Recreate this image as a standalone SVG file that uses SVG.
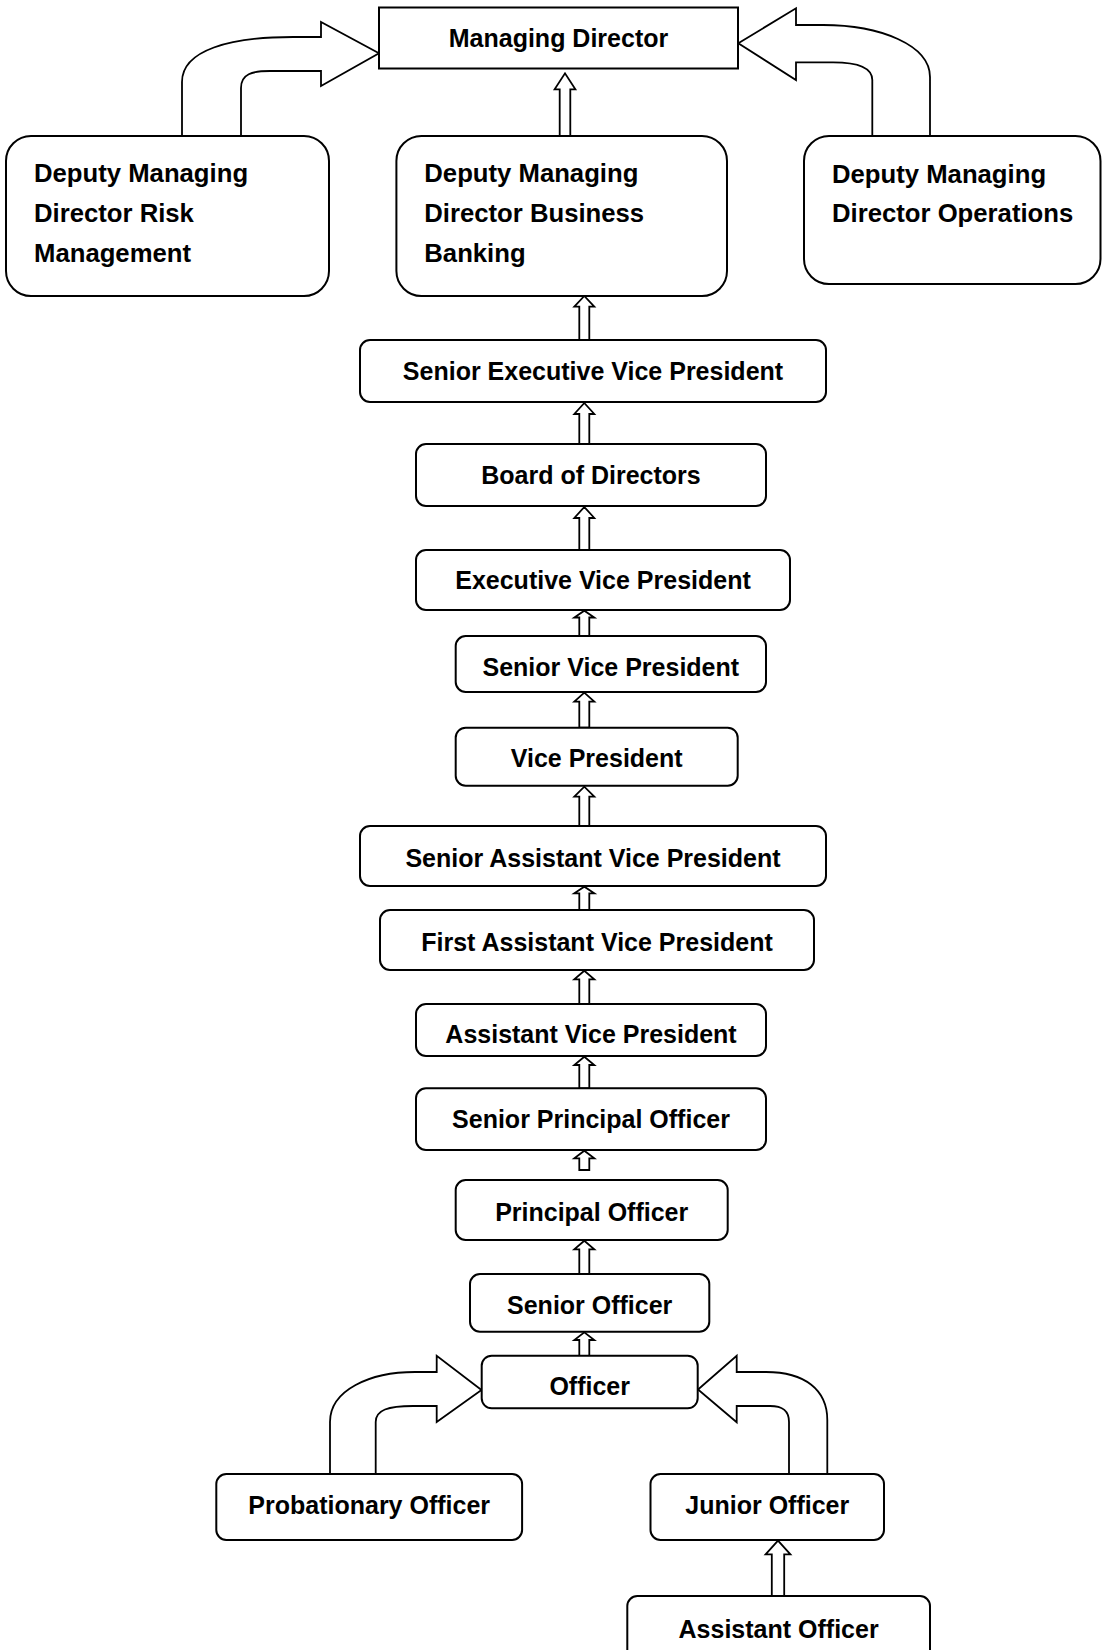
<svg xmlns="http://www.w3.org/2000/svg" width="1102" height="1650" viewBox="0 0 1102 1650">
<style>
.box{fill:#fff;stroke:#000;stroke-width:2}
.t{font-family:"Liberation Sans",Arial,sans-serif;font-weight:bold;font-size:25px;fill:#000;text-anchor:middle}
.tl{font-family:"Liberation Sans",Arial,sans-serif;font-weight:bold;font-size:25.7px;fill:#000}
.arr{fill:#fff;stroke:#000;stroke-width:1.8;stroke-linejoin:miter}
</style>
<rect width="1102" height="1650" fill="#fff"/>
<g id="connectors">
<path class="arr" d="M182,136 L182,82 C182,50 230,37 293,37 L321,37 L321,22 L379,53.3 L321,86 L321,71 L270,71 C252,71 241,74 241,88 L241,136 Z"/>
<path class="arr" d="M930,136 L930,77 C930,45 880,25 823,25 L796,25 L796,8.3 L738.3,43.3 L796,80 L796,62.3 L833,62.3 C860,62.3 872.3,68 872.3,80 L872.3,136 Z"/>
<path class="arr" d="M559.7,136 L559.7,89.3 L554.6,89.3 L565,73.3 L575.4,89.3 L570.3,89.3 L570.3,136 Z"/>
<path class="arr" d="M579.3,340 L579.3,306.7 L574.3,306.7 L584.3,296 L594.3,306.7 L589.3,306.7 L589.3,340 Z"/>
<path class="arr" d="M579.3,444 L579.3,414 L574.3,414 L584.3,403 L594.3,414 L589.3,414 L589.3,444 Z"/>
<path class="arr" d="M579.3,550 L579.3,518 L574.3,518 L584.3,507 L594.3,518 L589.3,518 L589.3,550 Z"/>
<path class="arr" d="M579.3,636 L579.3,617.5 L574.3,617.5 L584.3,610.7 L594.3,617.5 L589.3,617.5 L589.3,636 Z"/>
<path class="arr" d="M579.3,727.7 L579.3,701.7 L574.3,701.7 L584.3,692.7 L594.3,701.7 L589.3,701.7 L589.3,727.7 Z"/>
<path class="arr" d="M579.3,826 L579.3,796.7 L574.3,796.7 L584.3,786.7 L594.3,796.7 L589.3,796.7 L589.3,826 Z"/>
<path class="arr" d="M579.3,910 L579.3,893.3 L574.3,893.3 L584.3,886.7 L594.3,893.3 L589.3,893.3 L589.3,910 Z"/>
<path class="arr" d="M579.3,1004 L579.3,979.3 L574.3,979.3 L584.3,970.7 L594.3,979.3 L589.3,979.3 L589.3,1004 Z"/>
<path class="arr" d="M579.3,1088.3 L579.3,1065 L574.3,1065 L584.3,1056.7 L594.3,1065 L589.3,1065 L589.3,1088.3 Z"/>
<path class="arr" d="M579.3,1170 L579.3,1158.3 L574.3,1158.3 L584.3,1150.7 L594.3,1158.3 L589.3,1158.3 L589.3,1170 Z"/>
<path class="arr" d="M579.3,1274 L579.3,1249.3 L574.3,1249.3 L584.3,1240.7 L594.3,1249.3 L589.3,1249.3 L589.3,1274 Z"/>
<path class="arr" d="M579.3,1356 L579.3,1340 L574.3,1340 L584.3,1332.3 L594.3,1340 L589.3,1340 L589.3,1356 Z"/>
<path class="arr" d="M330,1474 L330,1422 C330,1390 370,1372 415,1372 L436.7,1372 L436.7,1355.7 L481.5,1390 L436.7,1422 L436.7,1406 L413,1406 C388,1406 375.7,1410 375.7,1422 L375.7,1474 Z"/>
<path class="arr" d="M827.3,1474 L827.3,1420 C827.3,1390 805,1372 766,1372 L736.7,1372 L736.7,1355.7 L698,1389.5 L736.7,1422.3 L736.7,1406 L770,1406 C782,1406 789,1410 789,1422 L789,1474 Z"/>
<path class="arr" d="M771.8,1596 L771.8,1554.3 L765.6,1554.3 L778,1540.7 L790.4,1554.3 L784.2,1554.3 L784.2,1596 Z"/>
</g>
<g id="md"><rect class="box" x="379" y="7.5" width="359" height="61"/><text class="t" x="558.5" y="46.5" font-size="25.7">Managing Director</text></g>
<g id="dmd-risk"><rect class="box" x="6" y="136" width="323" height="160" rx="25"/><text class="tl" x="34" y="182">Deputy Managing</text><text class="tl" x="34" y="222">Director Risk</text><text class="tl" x="34" y="262">Management</text></g>
<g id="dmd-bb"><rect class="box" x="396.4" y="136" width="330.6" height="160" rx="25"/><text class="tl" x="424.3" y="182">Deputy Managing</text><text class="tl" x="424.3" y="222">Director Business</text><text class="tl" x="424.3" y="262">Banking</text></g>
<g id="dmd-ops"><rect class="box" x="804" y="136" width="296.5" height="148" rx="25"/><text class="tl" x="832" y="182.5">Deputy Managing</text><text class="tl" x="832" y="221.5">Director Operations</text></g>
<g id="sevp"><rect class="box" x="360" y="340" width="466" height="62" rx="10"/><text class="t" x="593" y="380">Senior Executive Vice President</text></g>
<g id="bod"><rect class="box" x="416" y="444" width="350" height="62" rx="10"/><text class="t" x="591" y="484.3">Board of Directors</text></g>
<g id="evp"><rect class="box" x="416" y="550" width="374" height="60" rx="10"/><text class="t" x="603" y="589">Executive Vice President</text></g>
<g id="svp"><rect class="box" x="455.7" y="636" width="310.3" height="56" rx="10"/><text class="t" x="610.8" y="676">Senior Vice President</text></g>
<g id="vp"><rect class="box" x="455.7" y="727.7" width="282" height="58" rx="10"/><text class="t" x="596.7" y="767.3">Vice President</text></g>
<g id="savp"><rect class="box" x="360" y="826" width="466" height="60" rx="10"/><text class="t" x="593" y="866.7">Senior Assistant Vice President</text></g>
<g id="favp"><rect class="box" x="380" y="910" width="434" height="60" rx="10"/><text class="t" x="597" y="950.7">First Assistant Vice President</text></g>
<g id="avp"><rect class="box" x="416" y="1004" width="350" height="52" rx="10"/><text class="t" x="591" y="1043.3">Assistant Vice President</text></g>
<g id="spo"><rect class="box" x="416" y="1088.3" width="350" height="61.7" rx="10"/><text class="t" x="591" y="1128.3">Senior Principal Officer</text></g>
<g id="po"><rect class="box" x="455.7" y="1180" width="272" height="60" rx="10"/><text class="t" x="591.7" y="1220.7">Principal Officer</text></g>
<g id="so"><rect class="box" x="470" y="1274" width="239.3" height="57.7" rx="10"/><text class="t" x="589.7" y="1314.3">Senior Officer</text></g>
<g id="officer"><rect class="box" x="481.7" y="1355.7" width="216" height="52.6" rx="10"/><text class="t" x="589.7" y="1395">Officer</text></g>
<g id="probationary"><rect class="box" x="216.3" y="1474" width="305.8" height="66" rx="10"/><text class="t" x="369.2" y="1514.3">Probationary Officer</text></g>
<g id="junior"><rect class="box" x="650.5" y="1474" width="233.5" height="66" rx="10"/><text class="t" x="767.3" y="1514.3">Junior Officer</text></g>
<g id="assistant"><rect class="box" x="627.3" y="1596" width="302.7" height="70" rx="10"/><text class="t" x="778.6" y="1637.5">Assistant Officer</text></g>
</svg>
